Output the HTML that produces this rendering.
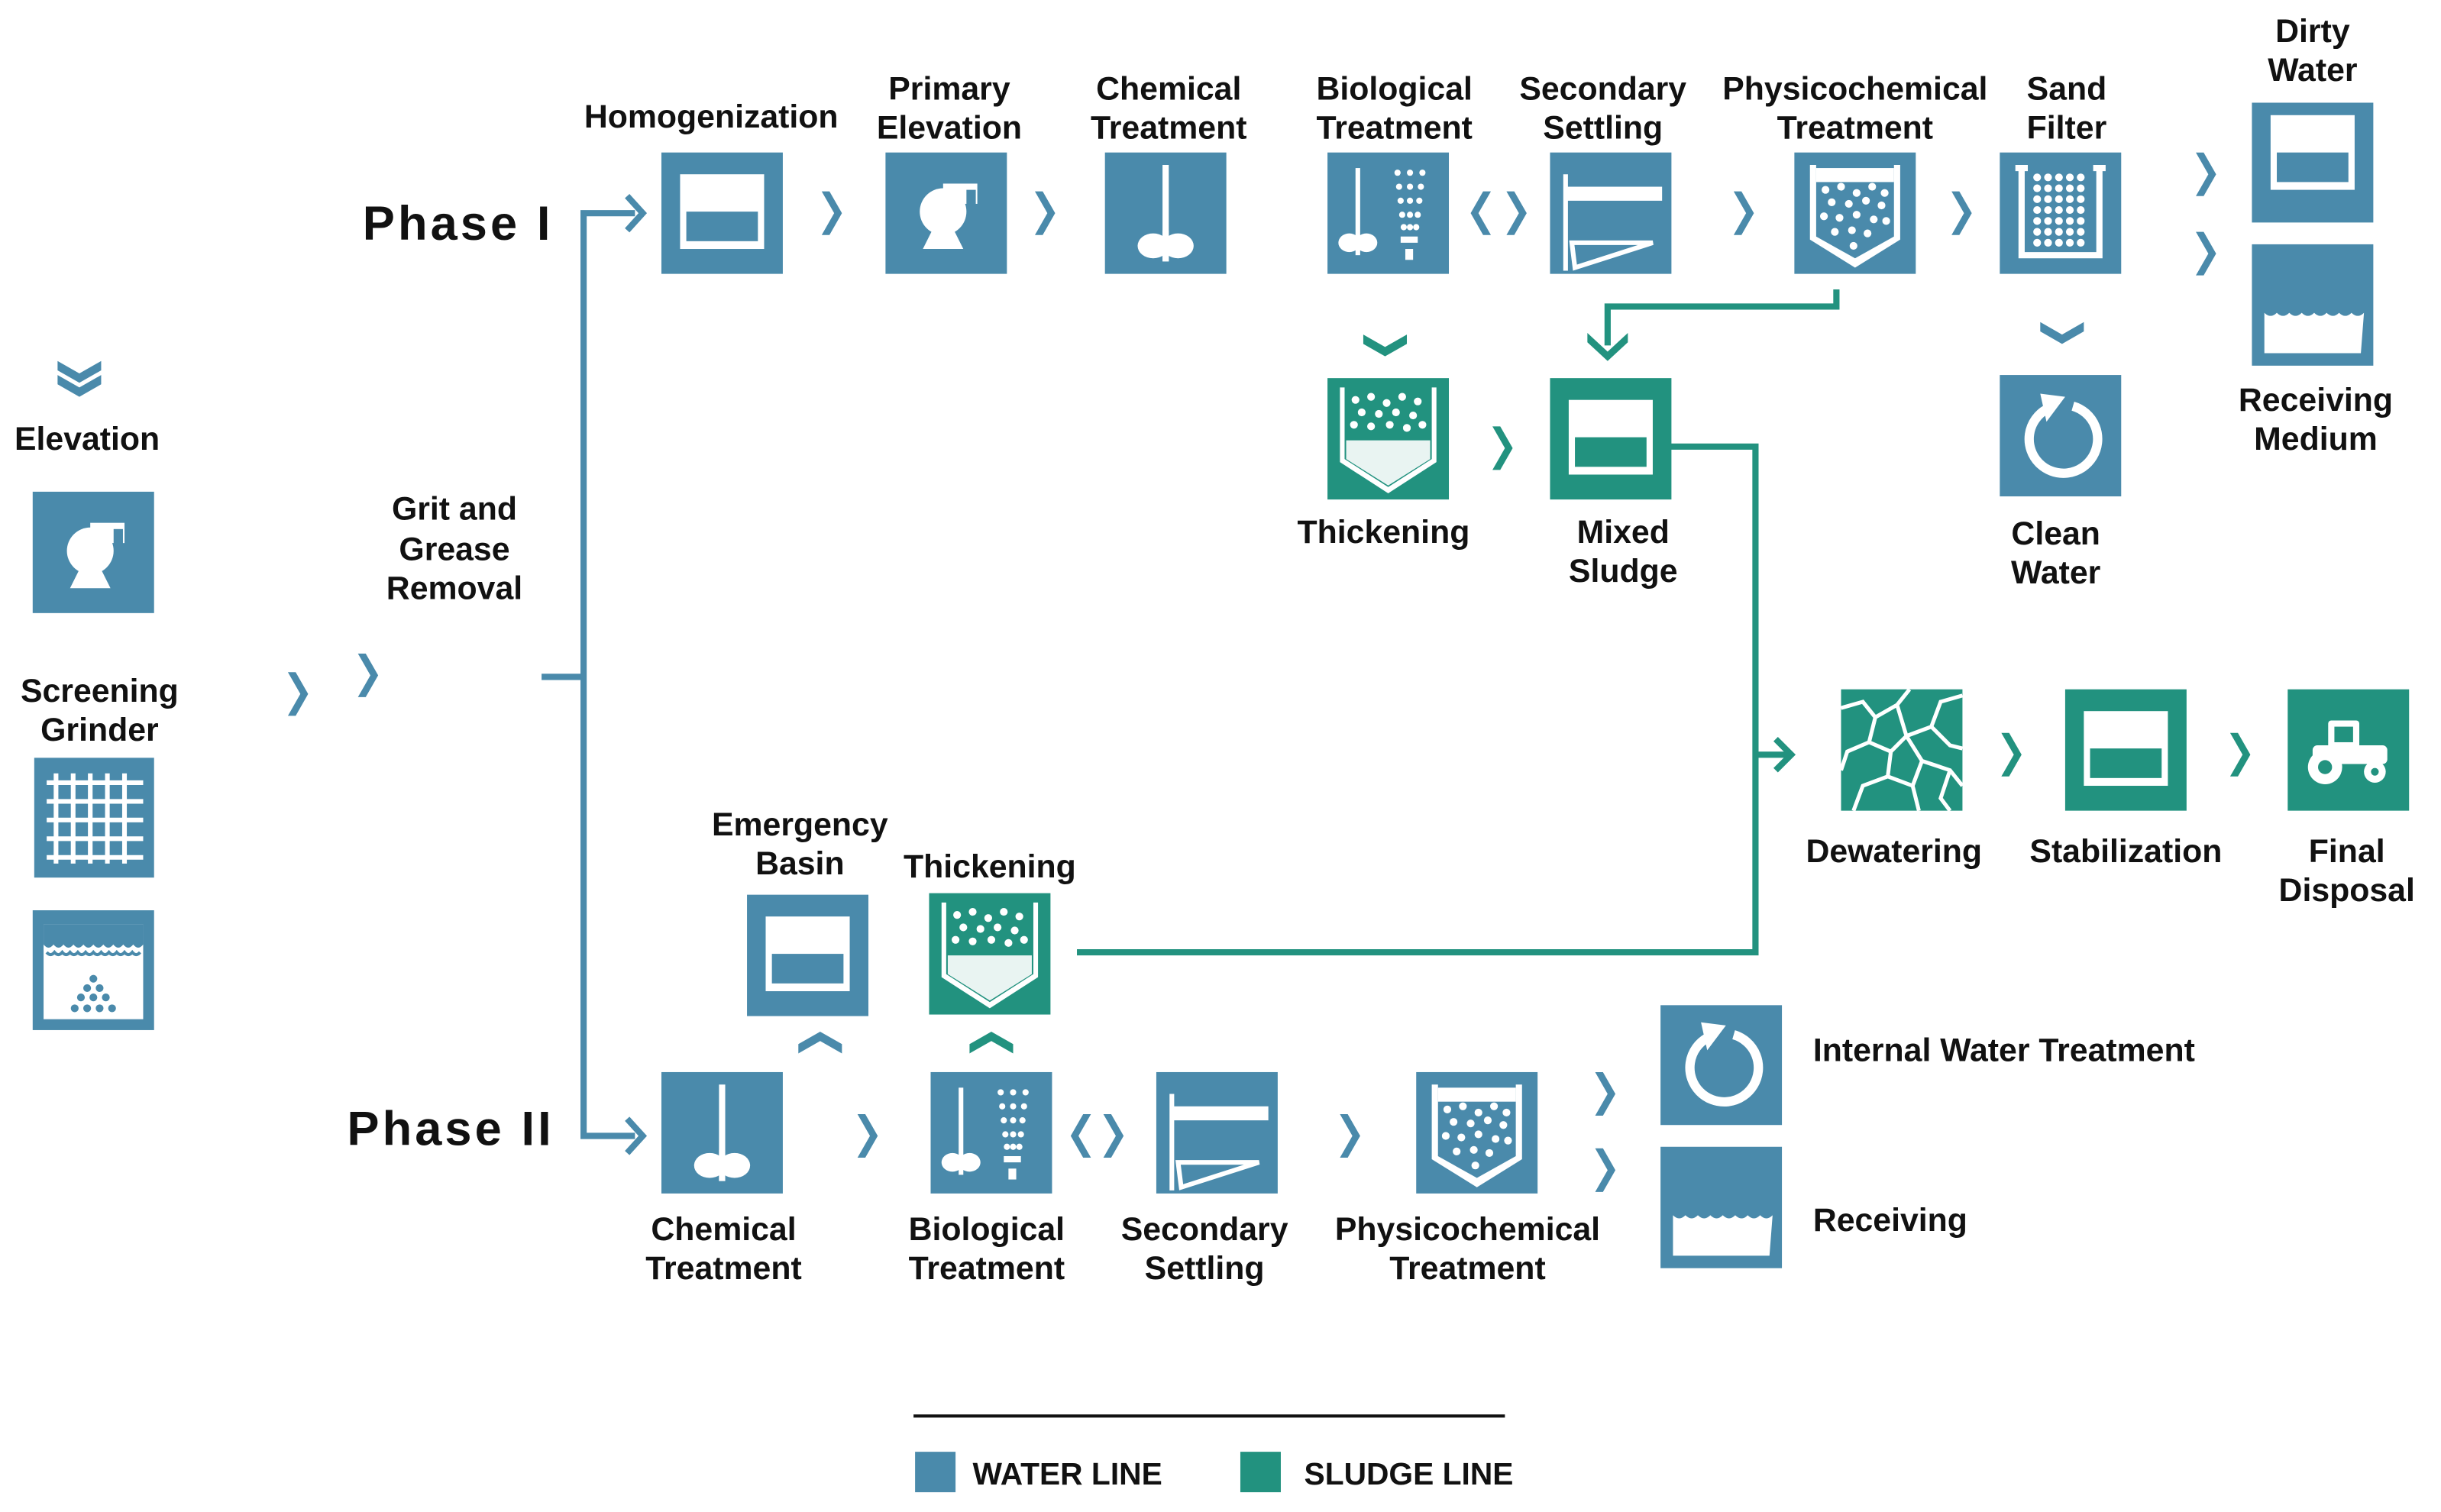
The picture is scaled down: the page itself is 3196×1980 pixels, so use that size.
<!DOCTYPE html>
<html><head><meta charset="utf-8"><style>
html,body{margin:0;padding:0;background:#fff;}
svg{display:block;}
text{font-family:"Liberation Sans",Arial,sans-serif;font-weight:bold;fill:#111;}
</style></head><body>
<svg width="3196" height="1980" viewBox="0 0 1568.5 971.7" preserveAspectRatio="none" xmlns="http://www.w3.org/2000/svg">
<defs>
<path id="chev" d="M0,0 L5,0 L13,14 L5,28 L0,28 L8,14 Z"/>
<path id="chevl" d="M13,0 L8,0 L0,14 L8,28 L13,28 L5,14 Z"/>
<path id="down" d="M0,0 L14,8 L28,0 L28,6 L14,14 L0,6 Z"/>
<path id="up" d="M0,14 L14,6 L28,14 L28,8 L14,0 L0,8 Z"/>
<g id="tank"><rect x="12" y="14" width="54" height="48" fill="#fff"/><rect x="16" y="38" width="46" height="19" fill="currentColor"/></g>
<g id="pump" fill="#fff"><circle cx="37" cy="38" r="15"/><rect x="37" y="20" width="22" height="13"/><rect x="52" y="24" width="6" height="10" fill="currentColor"/><path d="M24,62 L50,62 L43,48 L31,48 Z"/></g>
<g id="mixer" fill="#fff"><rect x="37" y="8" width="4" height="62"/><ellipse cx="31" cy="60" rx="10" ry="8"/><ellipse cx="47" cy="60" rx="10" ry="8"/><rect x="37" y="50" width="4" height="20" fill="#fff"/></g>
<g id="bio" fill="#fff"><rect x="18" y="10" width="3" height="56"/><ellipse cx="14" cy="58" rx="7" ry="6"/><ellipse cx="25" cy="58" rx="7" ry="6"/>
<circle cx="45" cy="13" r="2"/><circle cx="53" cy="13" r="2"/><circle cx="61" cy="13" r="2"/><circle cx="46" cy="22" r="2"/><circle cx="53" cy="22" r="2"/><circle cx="60" cy="22" r="2"/><circle cx="47" cy="31" r="2"/><circle cx="53" cy="31" r="2"/><circle cx="59" cy="31" r="2"/><circle cx="48" cy="40" r="2"/><circle cx="53" cy="40" r="2"/><circle cx="58" cy="40" r="2"/><circle cx="49" cy="48" r="2"/><circle cx="53" cy="48" r="2"/><circle cx="57" cy="48" r="2"/><rect x="47" y="54" width="11" height="4"/><rect x="50" y="62" width="5" height="7"/></g>
<g id="settle" fill="none" stroke="#fff"><rect x="10" y="22" width="62" height="9" fill="#fff" stroke="none"/><line x1="10" y1="14" x2="10" y2="76" stroke-width="3"/><path d="M14,58 L66,58 L16,74 Z" stroke-width="3"/></g>
<g id="physico" fill="#fff"><path d="M10,8 L10,56 L39,74 L68,56 L68,8 L64,8 L64,54 L39,68 L14,54 L14,8 Z"/><rect x="14" y="10" width="50" height="9"/>
<circle cx="20" cy="24" r="2.5"/><circle cx="30" cy="22" r="2.5"/><circle cx="40" cy="26" r="2.5"/><circle cx="50" cy="22" r="2.5"/><circle cx="58" cy="26" r="2.5"/><circle cx="24" cy="32" r="2.5"/><circle cx="35" cy="33" r="2.5"/><circle cx="46" cy="31" r="2.5"/><circle cx="56" cy="34" r="2.5"/><circle cx="19" cy="41" r="2.5"/><circle cx="29" cy="42" r="2.5"/><circle cx="40" cy="40" r="2.5"/><circle cx="51" cy="43" r="2.5"/><circle cx="59" cy="44" r="2.5"/><circle cx="26" cy="51" r="2.5"/><circle cx="37" cy="50" r="2.5"/><circle cx="47" cy="52" r="2.5"/><circle cx="38" cy="60" r="2.5"/></g>
<g id="sand" fill="#fff"><path d="M10,8 L18,8 L18,12 L16,12 L16,64 L62,64 L62,12 L60,12 L60,8 L68,8 L68,12 L66,12 L66,68 L12,68 L12,12 L10,12 Z"/>
<g id="srow"><circle cx="24" cy="16" r="2.5"/><circle cx="31" cy="16" r="2.5"/><circle cx="38" cy="16" r="2.5"/><circle cx="45" cy="16" r="2.5"/><circle cx="52" cy="16" r="2.5"/></g>
<use href="#srow" y="7"/><use href="#srow" y="14"/><use href="#srow" y="21"/><use href="#srow" y="28"/><use href="#srow" y="35"/><use href="#srow" y="42"/></g>
<g id="recv"><path d="M8,44 q4,4 8,0 q4,4 8,0 q4,4 8,0 q4,4 8,0 q4,4 8,0 q4,4 8,0 q4,4 8,0 q4,4 8,0 L70,70 L8,70 Z" fill="#fff"/><rect x="12" y="52" width="54" height="14" fill="#fff"/></g>
<g id="cycle" fill="none" stroke="#fff" stroke-width="6"><path d="M30,22 A22,22 0 1 0 47,20"/><path d="M26,12 L42,14 L30,30 Z" fill="#fff" stroke="none"/></g>
<g id="thick" fill="#fff"><path d="M8,6 L8,54 L39,74 L70,54 L70,6 L67,6 L67,52 L39,70 L11,52 L11,6 Z"/>
<circle cx="18" cy="14" r="2.5"/><circle cx="28" cy="12" r="2.5"/><circle cx="38" cy="16" r="2.5"/><circle cx="48" cy="12" r="2.5"/><circle cx="58" cy="15" r="2.5"/><circle cx="22" cy="22" r="2.5"/><circle cx="33" cy="23" r="2.5"/><circle cx="44" cy="22" r="2.5"/><circle cx="55" cy="24" r="2.5"/><circle cx="17" cy="30" r="2.5"/><circle cx="28" cy="31" r="2.5"/><circle cx="40" cy="30" r="2.5"/><circle cx="51" cy="32" r="2.5"/><circle cx="61" cy="30" r="2.5"/>
<path d="M12,40 L66,40 L66,52 L39,69 L12,52 Z" fill="#fff" opacity="0.9"/></g>
<g id="grid" fill="none" stroke="#fff" stroke-width="3"><path d="M14,10 V68 M25,10 V68 M36,10 V68 M47,10 V68 M58,10 V68 M8,16 H70 M8,28 H70 M8,40 H70 M8,52 H70 M8,64 H70"/></g>
<g id="grit"><rect x="7" y="9" width="64" height="61" fill="#fff"/>
<path d="M7,9 L71,9 L71,22 q-3.2,4 -6.4,0 q-3.2,4 -6.4,0 q-3.2,4 -6.4,0 q-3.2,4 -6.4,0 q-3.2,4 -6.4,0 q-3.2,4 -6.4,0 q-3.2,4 -6.4,0 q-3.2,4 -6.4,0 q-3.2,4 -6.4,0 q-3.2,4 -6.4,0 Z" fill="currentColor"/>
<path d="M9,27 q2.5,3 5,0 q2.5,3 5,0 q2.5,3 5,0 q2.5,3 5,0 q2.5,3 5,0 q2.5,3 5,0 q2.5,3 5,0 q2.5,3 5,0 q2.5,3 5,0 q2.5,3 5,0 q2.5,3 5,0 q2.5,3 5,0" fill="none" stroke="currentColor" stroke-width="2"/>
<g fill="currentColor"><circle cx="39" cy="44" r="2.5"/><circle cx="35" cy="50" r="2.5"/><circle cx="43" cy="50" r="2.5"/><circle cx="31" cy="56" r="2.5"/><circle cx="39" cy="56" r="2.5"/><circle cx="47" cy="56" r="2.5"/><circle cx="27" cy="63" r="2.5"/><circle cx="35" cy="63" r="2.5"/><circle cx="43" cy="63" r="2.5"/><circle cx="51" cy="63" r="2.5"/></g></g>
<g id="dewater" fill="none" stroke="#fff" stroke-width="2.5"><path d="M0,12 L14,8 L22,18 L36,10 L44,0 M22,18 L18,34 L4,40 L0,52 M18,34 L32,40 L42,30 L36,10 M42,30 L58,24 L64,8 L78,4 M58,24 L70,36 L78,38 M32,40 L30,56 L14,62 L8,78 M30,56 L46,62 L52,46 L42,30 M52,46 L70,52 L78,62 M46,62 L50,78 M70,52 L64,70 L70,78"/></g>
<g id="tractor" fill="#fff"><rect x="26" y="20" width="20" height="18" rx="2"/><rect x="16" y="36" width="48" height="12" rx="3"/><circle cx="24" cy="50" r="11"/><circle cx="24" cy="50" r="4.5" fill="currentColor"/><circle cx="56" cy="53" r="7"/><circle cx="56" cy="53" r="2.5" fill="currentColor"/><rect x="30" y="24" width="12" height="10" fill="currentColor"/></g>
</defs>
<style>.w{fill:#4a8aab;color:#4a8aab}.s{fill:#22927f;color:#22927f}</style>

<text x="233" y="154" font-size="31" letter-spacing="2">Phase I</text>
<text x="223" y="736" font-size="31" letter-spacing="2">Phase II</text>

<g stroke="#4a8aab" stroke-width="4" fill="none">
<path d="M408,137 H375 V730 H408"/>
<path d="M348,435 H375"/>
<path d="M403,126 L413,137 L403,148"/>
<path d="M403,719 L413,730 L403,741"/>
</g>

<g class="w">
<rect x="425" y="98" width="78" height="78"/><use href="#tank" x="425" y="98"/>
<rect x="569" y="98" width="78" height="78"/><use href="#pump" x="569" y="98"/>
<rect x="710" y="98" width="78" height="78"/><use href="#mixer" x="710" y="98"/>
<rect x="853" y="98" width="78" height="78"/><use href="#bio" x="853" y="98"/>
<rect x="996" y="98" width="78" height="78"/><use href="#settle" x="996" y="98"/>
<rect x="1153" y="98" width="78" height="78"/><use href="#physico" x="1153" y="98"/>
<rect x="1285" y="98" width="78" height="78"/><use href="#sand" x="1285" y="98"/>
<rect x="1447" y="66" width="78" height="77"/><use href="#tank" x="1447" y="60"/>
<rect x="1447" y="157" width="78" height="78"/><use href="#recv" x="1447" y="157"/>
<rect x="1285" y="241" width="78" height="78"/><use href="#cycle" x="1285" y="241"/>
<use href="#chev" x="528" y="123"/><use href="#chev" x="665" y="123"/>
<use href="#chevl" x="945" y="123"/><use href="#chev" x="968" y="123"/>
<use href="#chev" x="1114" y="123"/><use href="#chev" x="1254" y="123"/>
<use href="#chev" x="1411" y="98"/><use href="#chev" x="1411" y="149"/>
<use href="#down" x="1311" y="207"/>
</g>
<g font-size="21" text-anchor="middle">
<text x="457" y="82">Homogenization</text>
<text x="610" y="64">Primary</text><text x="610" y="89">Elevation</text>
<text x="751" y="64">Chemical</text><text x="751" y="89">Treatment</text>
<text x="896" y="64">Biological</text><text x="896" y="89">Treatment</text>
<text x="1030" y="64">Secondary</text><text x="1030" y="89">Settling</text>
<text x="1192" y="64">Physicochemical</text><text x="1192" y="89">Treatment</text>
<text x="1328" y="64">Sand</text><text x="1328" y="89">Filter</text>
<text x="1486" y="27">Dirty</text><text x="1486" y="52">Water</text>
<text x="1488" y="264">Receiving</text><text x="1488" y="289">Medium</text>
<text x="1321" y="350">Clean</text><text x="1321" y="375">Water</text>
<text x="889" y="349">Thickening</text>
<text x="1043" y="349">Mixed</text><text x="1043" y="374">Sludge</text>
<text x="1217" y="554">Dewatering</text>
<text x="1366" y="554">Stabilization</text>
<text x="1508" y="554">Final</text><text x="1508" y="579">Disposal</text>
</g>

<g stroke="#22927f" stroke-width="4" fill="none">
<path d="M1180,186 V197 H1033 V222"/>
<path d="M1050,287 H1128 V612 H692"/>
<path d="M1128,485 H1150"/>
<path d="M1141,475 L1151,485 L1141,495"/>
</g>
<g class="s">
<path d="M1020,214 L1033,226 L1046,214 L1046,220 L1033,232 L1020,220 Z"/>
<use href="#down" x="876" y="215"/>
<rect x="853" y="243" width="78" height="78"/><use href="#thick" x="853" y="243"/>
<use href="#chev" x="959" y="274"/>
<rect x="996" y="243" width="78" height="78"/><use href="#tank" x="996" y="243"/>
<rect x="1183" y="443" width="78" height="78"/><use href="#dewater" x="1183" y="443"/>
<use href="#chev" x="1286" y="471"/>
<rect x="1327" y="443" width="78" height="78"/><use href="#tank" x="1327" y="443"/>
<use href="#chev" x="1433" y="471"/>
<rect x="1470" y="443" width="78" height="78"/><use href="#tractor" x="1470" y="443"/>
<rect x="597" y="574" width="78" height="78"/><use href="#thick" x="597" y="574"/>
<use href="#up" x="623" y="663"/>
<rect x="797" y="933" width="26" height="26"/>
</g>

<g class="w">
<path d="M37,232 L51,240 L65,232 L65,238 L51,246 L37,238 Z"/>
<path d="M37,241 L51,249 L65,241 L65,247 L51,255 L37,247 Z"/>
<rect x="21" y="316" width="78" height="78"/><use href="#pump" x="21" y="316"/>
<rect x="22" y="487" width="77" height="77"/><use href="#grid" x="22" y="487"/>
<rect x="21" y="585" width="78" height="77"/><use href="#grit" x="21" y="585"/>
<use href="#chev" x="185" y="432"/><use href="#chev" x="230" y="420"/>
</g>
<g font-size="21" text-anchor="middle">
<text x="56" y="289">Elevation</text>
<text x="64" y="451">Screening</text><text x="64" y="476">Grinder</text>
<text x="292" y="334">Grit and</text><text x="292" y="360">Grease</text><text x="292" y="385">Removal</text>
</g>

<g class="w">
<rect x="425" y="689" width="78" height="78"/><use href="#mixer" x="425" y="689"/>
<rect x="598" y="689" width="78" height="78"/><use href="#bio" x="598" y="689"/>
<rect x="743" y="689" width="78" height="78"/><use href="#settle" x="743" y="689"/>
<rect x="910" y="689" width="78" height="78"/><use href="#physico" x="910" y="689"/>
<rect x="1067" y="646" width="78" height="77"/><use href="#cycle" x="1067" y="645"/>
<rect x="1067" y="737" width="78" height="78"/><use href="#recv" x="1067" y="737"/>
<rect x="480" y="575" width="78" height="78"/><use href="#tank" x="480" y="575"/>
<use href="#up" x="513" y="663"/>
<use href="#chev" x="551" y="716"/>
<use href="#chevl" x="688" y="716"/><use href="#chev" x="709" y="716"/>
<use href="#chev" x="861" y="716"/>
<use href="#chev" x="1025" y="689"/><use href="#chev" x="1025" y="738"/>
<rect x="588" y="933" width="26" height="26"/>
</g>
<g font-size="21" text-anchor="middle">
<text x="465" y="797">Chemical</text><text x="465" y="822">Treatment</text>
<text x="634" y="797">Biological</text><text x="634" y="822">Treatment</text>
<text x="774" y="797">Secondary</text><text x="774" y="822">Settling</text>
<text x="943" y="797">Physicochemical</text><text x="943" y="822">Treatment</text>
<text x="514" y="537">Emergency</text><text x="514" y="562">Basin</text>
<text x="636" y="564">Thickening</text>
</g>
<g font-size="21">
<text x="1165" y="682">Internal Water Treatment</text>
<text x="1165" y="791">Receiving</text>
</g>

<line x1="587" y1="910" x2="967" y2="910" stroke="#111" stroke-width="2"/>
<text x="625" y="954" font-size="20">WATER LINE</text>
<text x="838" y="954" font-size="20">SLUDGE LINE</text>
</svg>
</body></html>
